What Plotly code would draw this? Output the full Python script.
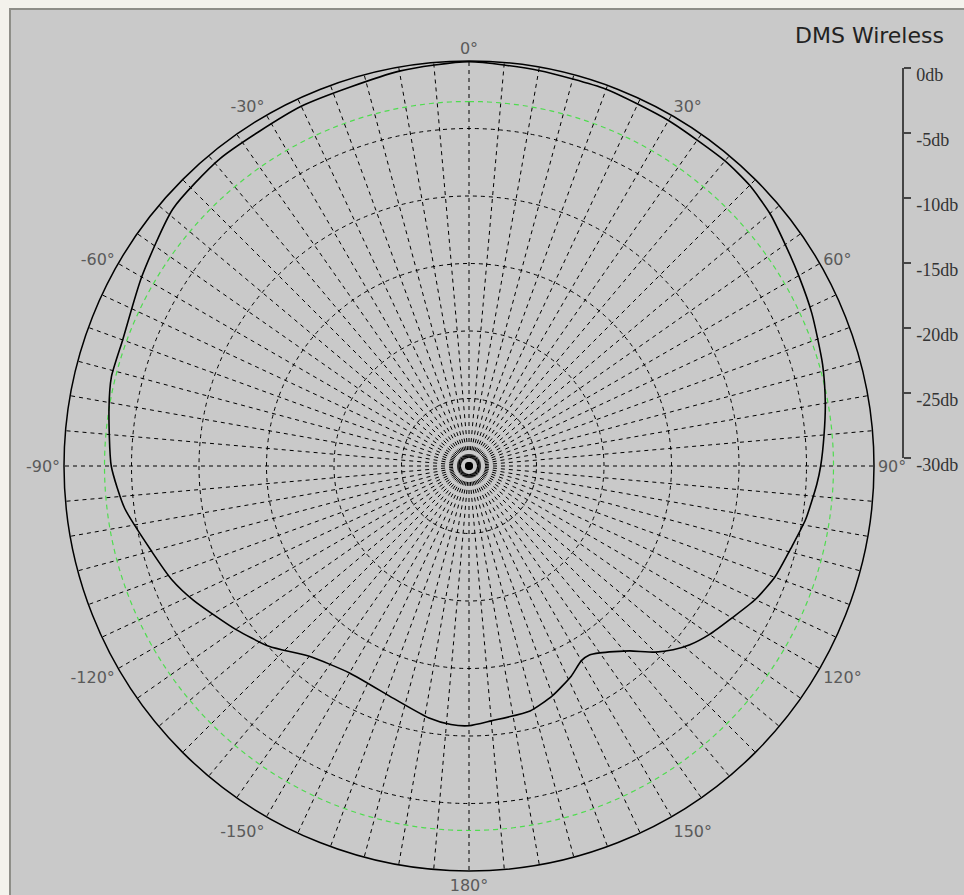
import plotly.graph_objects as go

# ---- data ----
ANGLES_DEG = [0, 10, 20, 30, 40, 45, 50, 55, 60, 66, 74, 80, 85, 90, 93, 99, 104, 110,
              115, 120, 125, 129, 132, 135, 139, 142, 145, 147.5, 150, 154, 160, 166,
              175, 180, 184, 189, 198, 210, 220, 228, 235, 244, 249, 255, 263, 270,
              279, 284, 290, 300, 311, 321, 335, 350, 360]
GAIN_DB = [-0.05, -0.25, -0.3, -0.45, -0.5, -0.6, -0.9, -1.4, -1.8, -2.2, -2.75, -3.2,
           -3.6, -3.95, -4.2, -4.75, -5.35, -5.9, -6.6, -7.5, -8.25, -8.95, -9.65,
           -10.5, -11.85, -12.55, -13.1, -13.4, -13.35, -12.7, -11.9, -11.3, -11.05,
           -10.76, -10.8, -11.1, -11.9, -12.3, -11.6, -10.05, -8.9, -7.3, -6.44,
           -5.65, -4.3, -3.5, -3.0, -2.7, -2.7, -2.0, -0.95, -0.7, -0.6, -0.3, -0.05]

REF_DB = -3                      # green reference circle
RING_DB = [-25, -20, -15, -10, -5]
SPOKE_STEP = 5
ANGLE_LABELS = {0: "0°", 30: "30°", 60: "60°", 90: "90°", 120: "120°", 150: "150°",
                180: "180°", 210: "-150°", 240: "-120°", 270: "-90°", 300: "-60°",
                330: "-30°"}
SCALE_VALS = [0, -5, -10, -15, -20, -25, -30]
SCALE_TEXT = ["0db", "-5db", "-10db", "-15db", "-20db", "-25db", "-30db"]
R_MIN, R_MAX = -30, 0

BG = "#c9c9c9"
W, H = 964, 895

spokes = list(range(0, 360, SPOKE_STEP))
spoke_text = [ANGLE_LABELS.get(a, "") for a in spokes]
ref_theta = list(range(0, 361, 1))

fig = go.Figure()

fig.add_trace(go.Scatterpolar(
    r=[REF_DB] * len(ref_theta), theta=ref_theta, mode="lines",
    line=dict(color="#4fdc4f", width=1.2, dash="5px,4px"),
    hoverinfo="skip", showlegend=False))

fig.add_trace(go.Scatterpolar(
    r=GAIN_DB, theta=ANGLES_DEG, mode="lines",
    line=dict(color="black", width=1.6, shape="spline", smoothing=0.6),
    showlegend=False))

# invisible trace to host the dB scale bar axis
fig.add_trace(go.Scatter(x=[0, 0], y=[R_MIN, R_MAX], mode="lines",
                         line=dict(width=0, color="rgba(0,0,0,0)"),
                         hoverinfo="skip", showlegend=False,
                         xaxis="x", yaxis="y"))

cx, cy, rad = 469, 466, 405
fig.update_layout(
    width=W, height=H,
    margin=dict(l=0, r=0, t=0, b=0, pad=0, autoexpand=False),
    paper_bgcolor="#f3f2ec",
    plot_bgcolor="rgba(0,0,0,0)",
    polar=dict(
        domain=dict(x=[(cx - rad) / W, (cx + rad) / W],
                    y=[(H - cy - rad) / H, (H - cy + rad) / H]),
        bgcolor=BG,
        radialaxis=dict(range=[R_MIN, R_MAX], tickvals=RING_DB,
                        showticklabels=False, ticks="", showline=False,
                        gridcolor="black", griddash="4px,4px", gridwidth=1),
        angularaxis=dict(rotation=90, direction="clockwise",
                         tickmode="array", tickvals=spokes, ticktext=spoke_text,
                         ticks="", showline=True, linecolor="black", linewidth=1.5,
                         gridcolor="black", griddash="4px,4px", gridwidth=1,
                         tickfont=dict(family="DejaVu Sans", size=16, color="#5a5a5a")),
    ),
    xaxis=dict(domain=[0.93, 902 / W], range=[0, 1], visible=False, fixedrange=True,
               automargin=False),
    yaxis=dict(domain=[(H - 458) / H, (H - 68) / H], range=[R_MIN, R_MAX],
               anchor="x", side="right", showgrid=False, zeroline=False,
               showline=True, linecolor="#444444", linewidth=1.5,
               ticks="outside", ticklen=7, tickcolor="#444444", tickwidth=1.5,
               tickmode="array", tickvals=SCALE_VALS, ticktext=SCALE_TEXT,
               ticklabelshift=7, ticklabelstandoff=2, automargin=False,
               tickfont=dict(family="Liberation Serif", size=18, color="#333333"),
               fixedrange=True),
    shapes=[
        dict(type="rect", xref="paper", yref="paper", layer="below",
             x0=10 / W, x1=1.02, y0=-0.02, y1=(H - 9) / H,
             fillcolor=BG, line=dict(color="#8e8e88", width=2)),
    ],
    annotations=[
        dict(text="DMS Wireless", xref="paper", yref="paper",
             x=869 / W, y=(H - 35) / H, xanchor="center", yanchor="middle",
             showarrow=False,
             font=dict(family="DejaVu Sans", size=22, color="#222222")),
    ],
)

fig.write_html("out.html",
               config={"displayModeBar": False},
               post_script="document.body.style.margin='0';")
